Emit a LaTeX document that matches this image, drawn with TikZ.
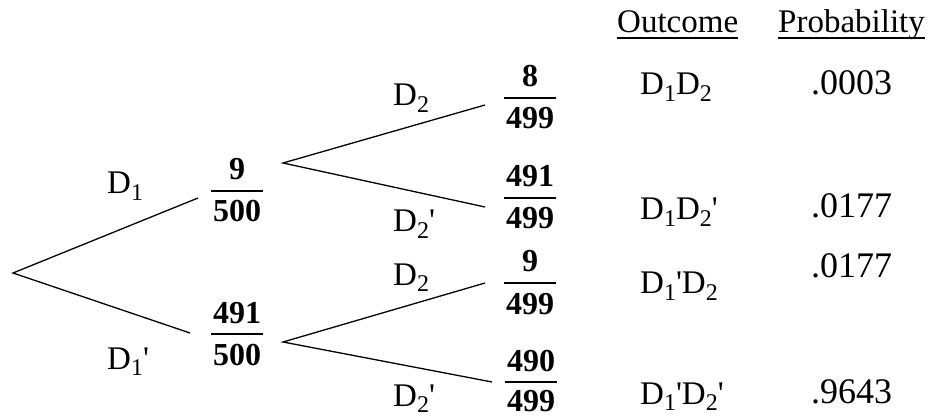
\documentclass[tikz,border=0pt]{standalone}
\usepackage{fontspec}
\setmainfont{Liberation Serif}
\newcommand\prm{\textquotesingle}
\newcommand\sub[1]{\raisebox{-0.2em}{\fontsize{24}{24}\selectfont #1}}
\newcommand\frc[6]{%
  \node[frnum] (#1n) at (#2,#3-11) {#4};
  \node[frnum] (#1d) at (#2,#3+#6) {#5};
  \draw[bar] (#2-26,#3) -- (#2+26,#3);}
\begin{document}
\begin{tikzpicture}[x=1pt,y=-1pt,
  branch/.style={line width=1.3pt},
  lbl/.style={inner sep=0pt, anchor=base west, font=\fontsize{33}{38}\selectfont},
  hdr/.style={inner sep=0pt, anchor=base west, font=\fontsize{33}{40}\selectfont},
  prob/.style={inner sep=0pt, anchor=base west, font=\fontsize{36}{42}\selectfont},
  frnum/.style={inner sep=0pt, anchor=base, font=\fontsize{32}{37}\selectfont\bfseries},
  bar/.style={line width=1.3pt},
  uline/.style={line width=1.1pt}]
\fill[white] (0,0) rectangle (933,419);
\path[use as bounding box] (0,0) rectangle (933,419);

% branch points
\coordinate (r) at (13,273);
\coordinate (a1) at (198,198);
\coordinate (a2) at (190,333);
\coordinate (u) at (283,163);
\coordinate (u1) at (485,105);
\coordinate (u2) at (485,207);
\coordinate (l) at (283,342);
\coordinate (l1) at (485,283);
\coordinate (l2) at (492,382);

\draw[branch] (a1) -- (r) -- (a2);
\draw[branch] (u1) -- (u) -- (u2);
\draw[branch] (l1) -- (l) -- (l2);

% branch labels
\node[lbl] (bD1) at (107,194) {D\sub1};
\node[lbl] (bD1p) at (107,369) {D\sub1\prm};
\node[lbl] (bD2a) at (393,106) {D\sub2};
\node[lbl] (bD2b) at (393,232) {D\sub2\prm};
\node[lbl] (bD2c) at (393,285) {D\sub2};
\node[lbl] (bD2d) at (393,406) {D\sub2\prm};

% fractions
\frc{f1}{237}{191}{9}{500}{31}
\frc{f2}{237}{334}{491}{500}{31}
\frc{f3}{530}{98}{8}{499}{31}
\frc{f4}{530}{198}{491}{499}{31}
\frc{f5}{530}{283}{9}{499}{31}
\frc{f6}{531}{382}{490}{499}{29}

% headers
\node[hdr] (hO) at (617,33) {Outcome};
\node[hdr] (hP) at (778,33) {Probability};
\draw[uline] ([yshift=-5pt]hO.base west) -- ([yshift=-5pt]hO.base east);
\draw[uline] ([yshift=-5pt]hP.base west) -- ([yshift=-5pt]hP.base east);

% outcomes
\node[lbl] (o1) at (640,95) {D\sub1D\sub2};
\node[lbl] (o2) at (640,220) {D\sub1D\sub2\prm};
\node[lbl] (o3) at (640,294) {D\sub1\prm D\sub2};
\node[lbl] (o4) at (640,404) {D\sub1\prm D\sub2\prm};

% probabilities
\node[prob] (p1) at (811,95) {.0003};
\node[prob] (p2) at (811,218) {.0177};
\node[prob] (p3) at (811,277) {.0177};
\node[prob] (p4) at (811,403) {.9643};
\end{tikzpicture}
\end{document}
